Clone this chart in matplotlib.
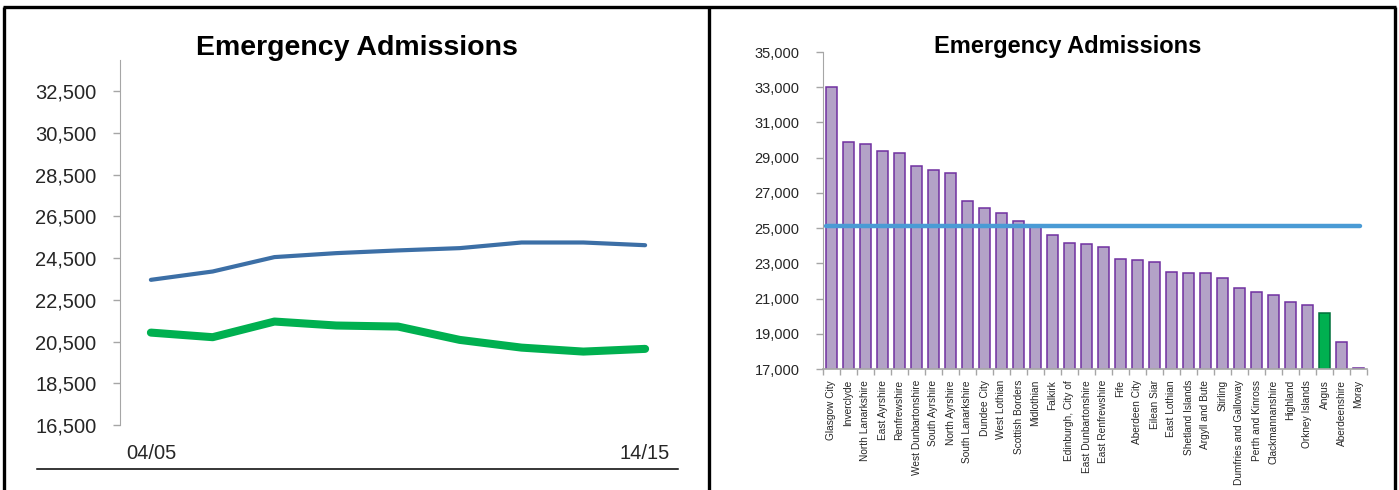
import numpy as np
import matplotlib
matplotlib.use("Agg")
import matplotlib.pyplot as plt
from matplotlib.lines import Line2D

plt.rcParams['font.family'] = ['Liberation Sans', 'DejaVu Sans']

# -------------------------
# Data
# -------------------------
# left chart: trend, 9 points, only first and last labelled
trend_labels = ['04/05', '14/15']
scotland = [23460, 23860, 24550, 24740, 24870, 24980, 25250, 25250, 25120]
angus = [20930, 20710, 21460, 21270, 21220, 20580, 20210, 20020, 20150]

# right chart: council areas, 14/15
areas = ['Glasgow City', 'Inverclyde', 'North Lanarkshire', 'East Ayrshire',
         'Renfrewshire', 'West Dunbartonshire', 'South Ayrshire', 'North Ayrshire',
         'South Lanarkshire', 'Dundee City', 'West Lothian', 'Scottish Borders',
         'Midlothian', 'Falkirk', 'Edinburgh, City of', 'East Dunbartonshire',
         'East Renfrewshire', 'Fife', 'Aberdeen City', 'Eilean Siar',
         'East Lothian', 'Shetland Islands', 'Argyll and Bute', 'Stirling',
         'Dumfries and Galloway', 'Perth and Kinross', 'Clackmannanshire',
         'Highland', 'Orkney Islands', 'Angus', 'Aberdeenshire', 'Moray']
admissions = [33030, 29880, 29780, 29400, 29290, 28500, 28310, 28140,
              26560, 26160, 25860, 25390, 25090, 24600, 24180, 24110,
              23940, 23260, 23180, 23070, 22490, 22430, 22430, 22150,
              21620, 21370, 21200, 20790, 20640, 20200, 18530, 17030]
scotland_avg = 25130
highlight = 'Angus'

W, H = 1399, 490
fig = plt.figure(figsize=(W / 100, H / 100), dpi=100)

def fx(px):
    return px / W

def fy(py):
    return 1 - py / H

axis_grey = '#a6a6a6'
text_col = '#262626'

# -------------------------
# Left: trend lines
# -------------------------
ax1 = fig.add_axes([fx(120), fy(425), fx(556), (425 - 60) / H])
x = np.arange(len(scotland))
ax1.plot(x, scotland, color='#3c6fa6', lw=3.0, solid_capstyle='round')
ax1.plot(x, angus, color='#00b050', lw=5.8, solid_capstyle='round')
ax1.set_xlim(-0.5, len(scotland) - 0.5)
ax1.set_ylim(16500, 34000)
ax1.set_yticks(np.arange(16500, 33000, 2000))
ax1.set_yticklabels([f'{v:,}' for v in range(16500, 33000, 2000)],
                    fontsize=14.5, color=text_col)
ax1.set_xticks([0, len(scotland) - 1])
ax1.set_xticklabels(trend_labels, fontsize=14.5, color=text_col)
ax1.tick_params(axis='x', length=0, pad=14)
ax1.tick_params(axis='y', length=5, color=axis_grey, width=1, pad=12)
for s in ['top', 'right', 'bottom']:
    ax1.spines[s].set_visible(False)
ax1.spines['left'].set_color(axis_grey)
ax1.spines['left'].set_bounds(16500, 34000)
fig.text(fx(357), fy(48), 'Emergency Admissions', fontsize=20.5,
         fontweight='bold', ha='center', va='center')

# -------------------------
# Right: bars by council area
# -------------------------
ax2 = fig.add_axes([fx(823), fy(369), fx(544), (369 - 52) / H])
xb = np.arange(len(areas))
fills = ['#00b050' if a == highlight else '#b3a2c7' for a in areas]
edges = ['#00703a' if a == highlight else '#7030a0' for a in areas]
ax2.bar(xb, admissions, width=0.64, color=fills, edgecolor=edges, linewidth=1.1)
ax2.plot([xb[0] - 0.3, xb[-1] + 0.1], [scotland_avg, scotland_avg],
         color='#4a9bd5', lw=3.2, solid_capstyle='round')
ax2.set_xlim(-0.5, len(areas) - 0.5)
ax2.set_ylim(17000, 35000)
ax2.set_yticks(np.arange(17000, 35001, 2000))
ax2.set_yticklabels([f'{v:,}' for v in range(17000, 35001, 2000)],
                    fontsize=10.5, color=text_col)
ax2.tick_params(axis='y', length=5, color=axis_grey, width=1, pad=12)
ax2.set_xticks(xb)
ax2.set_xticklabels(areas, rotation=90, fontsize=7.3, color=text_col)
ax2.tick_params(axis='x', length=0, pad=8)
ax2.set_xticks(np.arange(-0.5, len(areas), 1), minor=True)
ax2.tick_params(axis='x', which='minor', length=4, color=axis_grey, width=1)
for s in ['top', 'right']:
    ax2.spines[s].set_visible(False)
ax2.spines['left'].set_color(axis_grey)
ax2.spines['bottom'].set_color(axis_grey)
ax2.spines['bottom'].set_linewidth(1.2)
fig.text(fx(1068), fy(47), 'Emergency Admissions', fontsize=17,
         fontweight='bold', ha='center', va='center')

# -------------------------
# Panel frames
# -------------------------
frame = dict(color='black', lw=2.4, solid_capstyle='butt')
fig.add_artist(Line2D([fx(3), fx(1396)], [fy(7), fy(7)], **frame))
fig.add_artist(Line2D([fx(4), fx(4)], [0, fy(7)], **frame))
fig.add_artist(Line2D([fx(709), fx(709)], [0, fy(7)], **frame))
fig.add_artist(Line2D([fx(1395), fx(1395)], [0, fy(7)], **frame))
fig.add_artist(Line2D([fx(37), fx(678)], [fy(469), fy(469)], color='black', lw=1.1))

fig.savefig('out.png', dpi=100)
